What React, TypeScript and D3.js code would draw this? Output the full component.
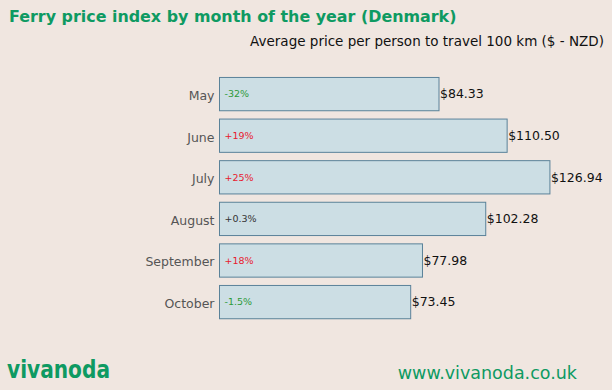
import React from "react";
import * as d3 from "d3";

const months = ["May", "June", "July", "August", "September", "October"];
const prices = [84.33, 110.5, 126.94, 102.28, 77.98, 73.45];
const changes = ["-32%", "+19%", "+25%", "+0.3%", "+18%", "-1.5%"];

const width = 612;
const height = 390;
const font = "DejaVu Sans, sans-serif";

const changeColor = (c: string) => {
  if (c === "+0.3%") return "#333333";
  return c.startsWith("-") ? "#2e9a3a" : "#e8202e";
};

const App = () => {
  const x = d3.scaleLinear().domain([0, 100]).range([219.5, 479.8]);

  const y = d3
    .scaleBand()
    .domain(months)
    .range([73.3, 322.9])
    .paddingInner(0.2)
    .paddingOuter(0.1);

  return (
    <svg
      width={width}
      height={height}
      style={{ position: "absolute", left: 0, top: 0, background: "#f0e6e0" }}
    >
      <rect width={width} height={height} fill="#f0e6e0" />
      <text
        x={9}
        y={22}
        fontFamily={font}
        fontWeight="bold"
        fontSize={15.9}
        fill="#0e9a62"
      >
        Ferry price index by month of the year (Denmark)
      </text>
      <text
        x={427}
        y={46}
        textAnchor="middle"
        fontFamily={font}
        fontSize={13.5}
        fill="#111"
      >
        Average price per person to travel 100 km ($ - NZD)
      </text>

      {months.map((m, i) => {
        const yy = y(m)!;
        const bw = y.bandwidth();
        return (
          <g key={m}>
            <rect
              x={x(0)}
              y={yy}
              width={x(prices[i]) - x(0)}
              height={bw}
              fill="#ccdee4"
              stroke="#5a8299"
              strokeWidth={1}
            />
            <text
              x={x(0) - 5}
              y={yy + bw / 2 + 1.5}
              dy="0.35em"
              textAnchor="end"
              fontFamily={font}
              fontSize={12.5}
              fill="#555"
            >
              {m}
            </text>
            <text
              x={x(0) + 5}
              y={yy + bw / 2}
              dy="0.35em"
              fontFamily={font}
              fontSize={9.5}
              fill={changeColor(changes[i])}
            >
              {changes[i]}
            </text>
            <text
              x={x(prices[i]) + 1}
              y={yy + bw / 2}
              dy="0.35em"
              fontFamily={font}
              fontSize={12.5}
              fill="#111"
            >
              {"$" + prices[i].toFixed(2)}
            </text>
          </g>
        );
      })}

      <text
        x={7}
        y={378}
        fontFamily={font}
        fontWeight="bold"
        fontSize={24}
        fill="#0e9a62"
        textLength={103}
        lengthAdjust="spacingAndGlyphs"
      >
        vivanoda
      </text>
      <text
        x={577}
        y={379}
        textAnchor="end"
        fontFamily={font}
        fontSize={17.5}
        fill="#0e9a62"
      >
        www.vivanoda.co.uk
      </text>
    </svg>
  );
};

export default App;
